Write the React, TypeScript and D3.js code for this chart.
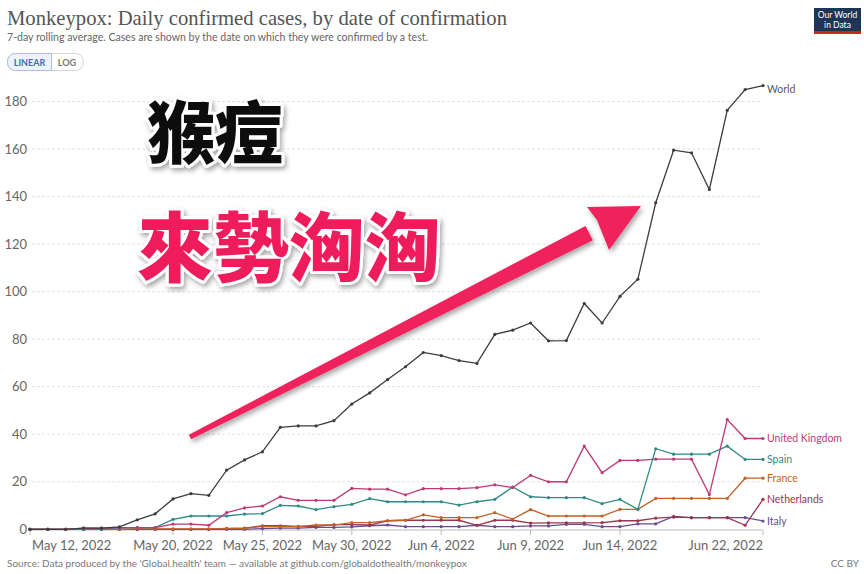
import * as d3 from "d3";

// dates May 12 .. Jun 22, 2022 (one per day)
const startDate = new Date(2022, 4, 12);
const dates: Date[] = d3.timeDay.range(startDate, new Date(2022, 5, 23));

const worldValues = [
  0, 0, 0, 0.5, 0.5, 1, 4, 6.5, 12.8, 15, 14.3, 24.9, 29.2, 32.6, 42.9, 43.5, 43.5,
  45.7, 52.7, 57.4, 63, 68.4, 74.4, 73.1, 71, 69.8, 82, 83.8, 86.8, 79.3, 79.4, 95,
  86.8, 98, 105.2, 137.4, 159.5, 158.4, 143, 176.3, 185, 186.7,
];
const ukValues = [
  0, 0, 0, 0.5, 0.5, 0.7, 0.7, 0.7, 2.2, 2.2, 1.7, 7, 9, 9.8, 13.7, 12.2, 12.2, 12.2,
  17.2, 16.9, 16.9, 14.5, 17.1, 17.1, 17.1, 17.5, 18.7, 17.6, 22.7, 20, 20, 35, 23.8,
  29, 29, 29.5, 29.5, 29.5, 14.6, 46.2, 38.2, 38.2,
];
const spainValues = [
  0, 0, 0, 0, 0, 0.7, 0.7, 0.7, 4.2, 5.6, 5.6, 5.6, 6.4, 6.6, 10.1, 9.8, 8.3, 9.5,
  10.5, 12.9, 11.6, 11.6, 11.6, 11.6, 10.2, 11.6, 12.6, 17.8, 13.7, 13.3, 13.3, 13.3,
  10.8, 12.6, 8.4, 33.9, 31.6, 31.6, 31.6, 35, 29.4, 29.4,
];
const franceValues = [
  0, 0, 0, 0, 0, 0, 0.2, 0.2, 0.2, 0.2, 0.2, 0.4, 0.4, 1.2, 1.1, 1.1, 1.8, 1.8, 2.8,
  2.8, 3.6, 3.8, 6.1, 4.9, 4.9, 4.9, 7, 4.3, 8.3, 5.6, 5.6, 5.6, 5.6, 8.4, 8.4, 13,
  13, 13, 13, 13, 21.5, 21.5,
];
const netherlandsValues = [
  0, 0, 0, 0, 0, 0, 0, 0, 0, 0, 0, 0.3, 0.5, 1.5, 1.5, 1.2, 1.2, 2, 2, 1.8, 3.6, 3.8,
  3.8, 3.8, 3.8, 1.7, 3.8, 3.8, 2.6, 2.7, 2.7, 2.7, 2.8, 3.6, 3.6, 4.7, 5.1, 4.9, 4.9,
  4.9, 1.7, 12.6,
];
const italyValues = [
  0, 0, 0, 0, 0, 0, 0, 0, 0, 0, 0, 0, 0, 0.3, 0.5, 0.5, 0.8, 0.8, 1, 1.5, 1.8, 1.1,
  1.1, 1.1, 1.1, 1.7, 1.1, 1.1, 1.4, 1.4, 2.1, 2.1, 1.1, 1.1, 2.3, 2.3, 5.4, 4.9, 4.9,
  4.9, 4.9, 3.5,
];

const seriesNames = ["World", "United Kingdom", "Spain", "France", "Netherlands", "Italy"];
const seriesValues = [worldValues, ukValues, spainValues, franceValues, netherlandsValues, italyValues];
const seriesColors = ["#3d3d3d", "#bc3a76", "#2e8a86", "#c0622a", "#9a3550", "#6b4a8f"];
const labelColors = ["#5a5a5a", "#bc3a76", "#2e8a86", "#c0622a", "#9a3550", "#6b4a8f"];
// small vertical nudges for the end labels (label placement, px)
const labelNudge = [4, 0, 0, 0, 0, 0];

const yTicks = [0, 20, 40, 60, 80, 100, 120, 140, 160, 180];
const xTickDates = [
  new Date(2022, 4, 12),
  new Date(2022, 4, 20),
  new Date(2022, 4, 25),
  new Date(2022, 4, 30),
  new Date(2022, 5, 4),
  new Date(2022, 5, 9),
  new Date(2022, 5, 14),
  new Date(2022, 5, 22),
];

const width = 864;
const height = 574;
const font = "Lato, 'Open Sans', sans-serif";
const cjk = "'Noto Sans CJK TC', 'Noto Sans CJK SC', sans-serif";

function App() {
  const xScale = d3.scaleTime().domain([dates[0], dates[dates.length - 1]]).range([30, 763]);
  const yScale = d3.scaleLinear().domain([0, 180]).range([529.3, 101.5]);
  const fmt = d3.timeFormat("%b %-d, %Y");

  const line = d3
    .line<number>()
    .x((d, i) => xScale(dates[i]))
    .y((d) => yScale(d));

  // arrow overlay (annotation)
  const ax0 = 190, ay0 = 437;
  const ux = 0.891, uy = -0.455;
  const nx = 0.455, ny = 0.891;
  const shaftLen = 448;
  const bx = ax0 + ux * shaftLen, by = ay0 + uy * shaftLen;
  const shaft = [
    [ax0 + nx * 2.5, ay0 + ny * 2.5],
    [bx + nx * 8, by + ny * 8],
    [bx - nx * 8, by - ny * 8],
    [ax0 - nx * 2.5, ay0 - ny * 2.5],
  ];
  const head = [
    [587, 207],
    [641, 206],
    [609, 250],
    [597, 220],
  ];

  return (
    <svg
      width={width}
      height={height}
      style={{ position: "absolute", left: 0, top: 0, background: "#fff" }}
    >
      <defs>
        <filter id="shadow" x="-20%" y="-20%" width="140%" height="140%">
          <feDropShadow dx="2" dy="3" stdDeviation="2.5" floodColor="#000" floodOpacity="0.35" />
        </filter>
      </defs>

      {/* header */}
      <text x={7} y={25} fontFamily="'Liberation Serif', 'DejaVu Serif', serif" fontSize={21}
        fill="#555" textLength={500} lengthAdjust="spacingAndGlyphs">
        Monkeypox: Daily confirmed cases, by date of confirmation
      </text>
      <text x={7} y={41} fontFamily={font} fontSize={10.5} fill="#666" textLength={421}
        lengthAdjust="spacingAndGlyphs">
        7-day rolling average. Cases are shown by the date on which they were confirmed by a test.
      </text>
      <rect x={7.5} y={53.5} width={76} height={17} rx={8} fill="#fff" stroke="#d6d6d6" />
      <path d="M 15.5 53.5 H 51.5 V 70.5 H 15.5 A 8 8 0 0 1 7.5 62.5 A 8 8 0 0 1 15.5 53.5 Z"
        fill="#eef3fa" stroke="#a9c0de" />
      <text x={29.5} y={65.5} textAnchor="middle" fontFamily={font} fontSize={9} fontWeight={700}
        fill="#3f6db0">LINEAR</text>
      <text x={67} y={65.5} textAnchor="middle" fontFamily={font} fontSize={9} fontWeight={700}
        fill="#777">LOG</text>

      {/* logo */}
      <rect x={814} y={8} width={47} height={26} fill="#1d3557" />
      <rect x={814} y={31} width={47} height={3} fill="#ce261e" />
      <text x={837.5} y={18} textAnchor="middle" fontFamily={font} fontSize={8.5} fill="#fff">Our World</text>
      <text x={837.5} y={27.5} textAnchor="middle" fontFamily={font} fontSize={8.5} fill="#fff">in Data</text>

      {/* grid + y axis */}
      {yTicks.map((t) => (
        <g key={t}>
          {t > 0 && (
            <line x1={32} x2={763} y1={yScale(t)} y2={yScale(t)} stroke="#e2e2e2"
              strokeDasharray="3,2" />
          )}
          <text x={27} y={yScale(t)} dy="0.35em" textAnchor="end" fontFamily={font}
            fontSize={13} fill="#666">{t}</text>
        </g>
      ))}

      {/* x axis */}
      <line x1={30} x2={763} y1={530} y2={530} stroke="#bbb" />
      {xTickDates.map((d, i) => {
        const anchor = i === 0 ? "start" : i === xTickDates.length - 1 ? "end" : "middle";
        const xx = xScale(d);
        return (
          <g key={i}>
            <line x1={xx} x2={xx} y1={530} y2={535} stroke="#bbb" />
            <text x={i === 0 ? xx + 2 : xx} y={550} textAnchor={anchor} fontFamily={font}
              fontSize={13} fill="#666">{fmt(d)}</text>
          </g>
        );
      })}

      {/* series */}
      {seriesValues
        .map((vals, si) => ({ vals, si }))
        .reverse()
        .map(({ vals, si }) => (
          <g key={seriesNames[si]}>
            <path d={line(vals) as string} fill="none" stroke={seriesColors[si]} strokeWidth={1.3} />
            {vals.map((v, i) => (
              <circle key={i} cx={xScale(dates[i])} cy={yScale(v)} r={1.6} fill={seriesColors[si]} />
            ))}
            <text x={767} y={yScale(vals[vals.length - 1]) + labelNudge[si]} dy="0.35em"
              fontFamily={font} fontSize={10.5} fill={labelColors[si]}>{seriesNames[si]}</text>
          </g>
        ))}

      {/* footer */}
      <text x={7} y={567} fontFamily={font} fontSize={10} fill="#777">
        Source: Data produced by the 'Global.health' team — available at github.com/globaldothealth/monkeypox
      </text>
      <text x={859} y={567} textAnchor="end" fontFamily={font} fontSize={10} fill="#777">CC BY</text>

      {/* overlay annotation */}
      <g filter="url(#shadow)">
        <polygon points={shaft.map((p) => p.join(",")).join(" ")} fill="#f0205c" />
        <polygon points={head.map((p) => p.join(",")).join(" ")} fill="#f0205c" />
      </g>
      <g filter="url(#shadow)">
        <text x={147} y={158} fontFamily={cjk} fontWeight={900} fontSize={68} fill="#111"
          stroke="#fff" strokeWidth={6} paintOrder="stroke" strokeLinejoin="round">猴痘</text>
        <text x={137} y={276} fontFamily={cjk} fontWeight={900} fontSize={76} fill="#ef1f5b"
          stroke="#fff" strokeWidth={6} paintOrder="stroke" strokeLinejoin="round">來勢洶洶</text>
      </g>
    </svg>
  );
}

export default App;
